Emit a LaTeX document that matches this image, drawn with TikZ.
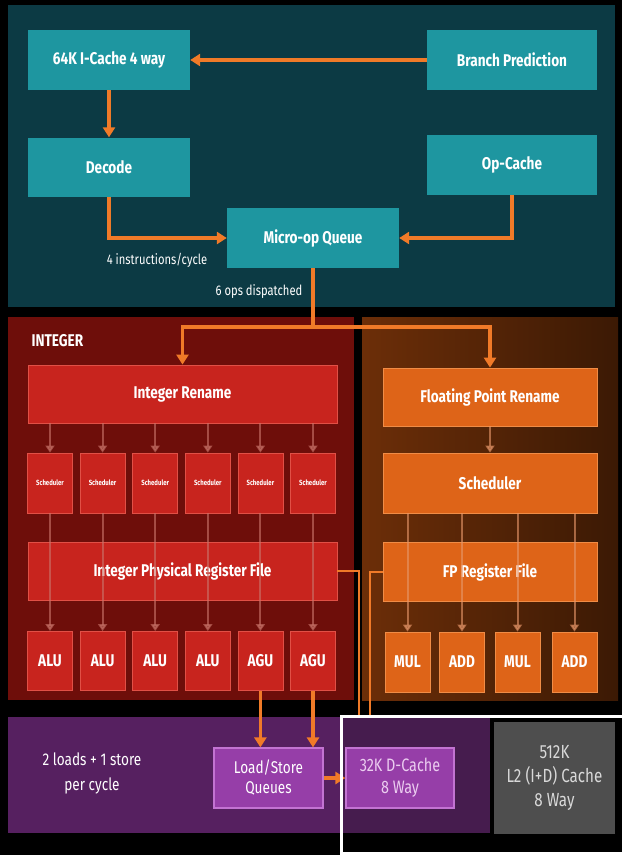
\documentclass[tikz,border=0pt]{standalone}
\usepackage{fontspec}
\setmainfont{Fira Sans}[FakeStretch=0.8]
\usepackage{tikz}
\usetikzlibrary{arrows.meta}
\definecolor{frontBg}{RGB}{12, 58, 68}
\definecolor{frontBox}{RGB}{30, 150, 160}
\definecolor{intBg}{RGB}{110, 14, 10}
\definecolor{intBox}{RGB}{200, 36, 30}
\definecolor{intEdge}{RGB}{225, 80, 70}
\definecolor{intFade}{RGB}{200, 115, 105}
\definecolor{fpBg}{RGB}{108, 46, 8}
\definecolor{fpBox}{RGB}{222, 100, 24}
\definecolor{fpEdge}{RGB}{240, 140, 70}
\definecolor{fpFade}{RGB}{230, 150, 105}
\definecolor{memBg}{RGB}{86, 32, 96}
\definecolor{memDark}{RGB}{70, 28, 78}
\definecolor{memBox}{RGB}{150, 62, 168}
\definecolor{memEdge}{RGB}{195, 115, 210}
\definecolor{memText}{RGB}{235, 205, 240}
\definecolor{l2Grey}{RGB}{78, 78, 78}
\definecolor{flowOrange}{RGB}{240, 122, 40}

\begin{document}
\begin{tikzpicture}[x=1pt, y=-1pt,
    blk/.style={rectangle, inner sep=0pt, text=white, align=center,
      font=\bfseries\fontsize{17}{19}\selectfont},
    frontbox/.style={blk, fill=frontBox},
    intbox/.style={blk, fill=intBox, draw=intEdge, line width=0.8pt},
    fpbox/.style={blk, fill=fpBox, draw=fpEdge, line width=0.8pt},
    membox/.style={blk, fill=memBox, draw=memEdge, line width=1.2pt,
      font=\fontsize{17}{20}\selectfont},
    flow/.style={draw=flowOrange, line width=3.5pt,
      -{Triangle[length=10pt, width=12pt]}},
    trunk/.style={draw=flowOrange, line width=3.5pt},
    link/.style={draw=flowOrange, line width=1.8pt},
    fade/.style={line width=2pt, opacity=0.6,
      -{Triangle[length=7pt, width=9pt]}},
    note/.style={text=white, font=\fontsize{14}{16}\selectfont}]

        % Page and panels
        \fill[black] (0,0) rectangle (622,855);
        \useasboundingbox (0,0) rectangle (622,855);
        \fill[frontBg] (8,5) rectangle (615,307);
        \fill[intBg] (8,317) rectangle (354,700);
        \shade[left color=fpBg, right color=fpBg!55!black] (362,317) rectangle (618,700);
        \fill[memBg] (8,717) rectangle (490,833);
        \fill[memDark] (342,717) rectangle (490,833);

        % Front end
        \node[frontbox, minimum width=162pt, minimum height=60pt] (icache) at (109,60) {64K I-Cache 4 way};
        \node[frontbox, minimum width=170pt, minimum height=60pt] (bpred) at (512,60) {Branch Prediction};
        \node[frontbox, minimum width=162pt, minimum height=59pt] (decode) at (109,167) {Decode};
        \node[frontbox, minimum width=170pt, minimum height=60pt] (opcache) at (512,165) {Op-Cache};
        \node[frontbox, minimum width=172pt, minimum height=60pt] (uopq) at (313,238) {Micro-op Queue};

        \draw[flow] (bpred.west) -- (icache.east);
        \draw[flow] (icache.south) -- (decode.north);
        \draw[flow] (decode.south) |- (uopq.west);
        \draw[flow] (opcache.south) |- (uopq.east);
        \node[note] (ipc) at (157,260) {4 instructions/cycle};
        \node[note] (dispatch) at (259,292) {6 ops dispatched};

        % Integer side
        \node[anchor=west, text=white, font=\bfseries\fontsize{17}{19}\selectfont] (intlabel) at (28,341) {INTEGER};
        \node[intbox, minimum width=309pt, minimum height=58pt] (intren) at (182.5,394) {Integer Rename};
        \node[intbox, minimum width=309pt, minimum height=58pt] (intprf) at (182.5,571) {Integer Physical Register File};
        \foreach \i/\unit in {1/ALU, 2/ALU, 3/ALU, 4/ALU, 5/AGU, 6/AGU} {
          \pgfmathsetmacro\cx{50+52.6*(\i-1)}
          \node[intbox, minimum width=45pt, minimum height=60pt,
            font=\bfseries\fontsize{7.5}{8}\selectfont] (sch\i) at (\cx,483) {Scheduler};
          \node[intbox, minimum width=45pt, minimum height=59pt] (alu\i) at (\cx,661) {\unit};
          \draw[fade, draw=intFade, fill=intFade] (intren.south -| sch\i) -- (sch\i.north);
          \draw[fade, draw=intFade, fill=intFade] (sch\i.south) -- (alu\i.north);
        }

        % Floating point side
        \node[fpbox, minimum width=214pt, minimum height=58pt] (fpren) at (490,397) {Floating Point Rename};
        \node[fpbox, minimum width=214pt, minimum height=60pt] (fpsch) at (490,483) {Scheduler};
        \node[fpbox, minimum width=214pt, minimum height=59pt] (fpprf) at (490,572) {FP Register File};
        \draw[fade, draw=fpFade, fill=fpFade] (fpren.south) -- (fpsch.north);
        \foreach \j/\unit/\cx in {1/MUL/407.5, 2/ADD/462, 3/MUL/517.5, 4/ADD/574.5} {
          \node[fpbox, minimum width=45pt, minimum height=60pt] (fpu\j) at (\cx,662) {\unit};
          \draw[fade, draw=fpFade, fill=fpFade] (fpsch.south -| fpu\j) -- (fpu\j.north);
        }

        % Dispatch to both sides
        \draw[trunk] (uopq.south) -- (uopq.south |- 0,327) coordinate (split);
        \draw[flow] (split) -| (intren.north);
        \draw[flow] (split) -| (fpren.north);

        % Register files to the data cache
        \coordinate (dcin1) at (359,716);
        \coordinate (dcin2) at (370,716);
        \draw[link] (intprf.east) -| (dcin1);
        \draw[link] (fpprf.west) -| (dcin2);

        % Load/store and caches
        \node[text=white, align=center, font=\fontsize{17}{25}\selectfont] (ldst) at (92,773) {2 loads + 1 store\\per cycle};
        \node[membox, minimum width=109pt, minimum height=60pt] (lsq) at (268.5,778) {Load/Store\\Queues};
        \node[membox, text=memText, minimum width=108pt, minimum height=60pt, font=\fontsize{18}{22}\selectfont] (dcache) at (400,778) {32K D-Cache\\8 Way};
        \node[blk, fill=l2Grey, text=white!85!black, minimum width=121pt, minimum height=112pt,
          font=\fontsize{19}{24}\selectfont] (l2) at (554.5,778) {512K\\L2 (I+D) Cache\\8 Way};
        \draw[flow] (alu5.south) -- (alu5.south |- lsq.north);
        \draw[flow] (alu6.south) -- (alu6.south |- lsq.north);
        \draw[flow] (lsq.east) -- (dcache.west);

        % White frame round the caches
        \draw[white, line width=3pt] (341,716) rectangle (624,853);
      \end{tikzpicture}
\end{document}
